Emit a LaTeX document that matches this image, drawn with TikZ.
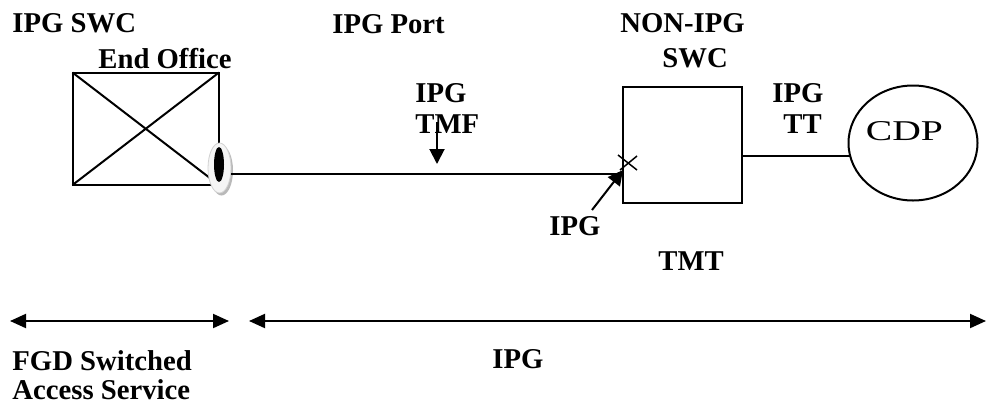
\documentclass[tikz,border=0pt]{standalone}
\usepackage{fontspec}
\setmainfont{Liberation Serif}
\usetikzlibrary{arrows.meta,shapes.geometric,calc}
\begin{document}
\begin{tikzpicture}[x=0.5pt,y=-0.5pt,
  lbl/.style={anchor=base west,inner sep=0,font=\fontsize{14.35}{16}\selectfont\bfseries},
  ln/.style={line width=1pt},
  thin/.style={line width=0.75pt},
  tip/.style={-{Triangle[length=7.5pt,width=7.5pt]}},
  both/.style={{Triangle[length=8pt,width=7pt]}-{Triangle[length=8pt,width=7pt]}},
  boxnode/.style={draw,line width=1pt,rectangle,inner sep=0,outer sep=0}]
\useasboundingbox (0,0) rectangle (986,408);
\fill[white] (0,0) rectangle (986,408);

% left end office box with cross
\node[boxnode,minimum width=73.25pt,minimum height=56.25pt] (eo) at (145.75,128.75) {};
\draw[ln] (eo.north west) -- (eo.south east) (eo.south west) -- (eo.north east);

% port oval
\node[ellipse,fill=gray!55,minimum width=11.5pt,minimum height=25pt,inner sep=0] (portsh) at (221.5,170.5) {};
\node[ellipse,fill=gray!8,draw=gray!35,line width=0.4pt,minimum width=11.5pt,minimum height=25pt,inner sep=0,outer sep=0] (port) at (219.5,168) {};
\node[ellipse,fill=black,minimum width=5pt,minimum height=17.5pt,inner sep=0] (porthole) at (219,164.5) {};

% non-IPG switch box
\node[boxnode,minimum width=59.5pt,minimum height=58pt] (sw) at (682.5,145) {};
\coordinate (xpt) at (623,174);
\draw[ln] (port.east |- xpt) -- (xpt);
\draw[thin] (618,155) -- (637,170) (620,170) -- (637,156);

% CDP
\node[draw,ellipse,line width=1pt,minimum width=64.5pt,minimum height=57.5pt,inner sep=0,outer sep=0] (cdp) at (913,143) {};
\node[anchor=base,inner sep=0,font=\fontsize{14.35}{16}\selectfont] (cdpt) at (904.5,140) {\scalebox{1.38}[1]{CDP}};
\draw[ln] (sw.east |- cdp.192.5) -- (cdp.192.5);

% labels
\node[lbl] (l1) at (12,32) {IPG SWC};
\node[lbl] (l2) at (98,68) {End Office};
\node[lbl] (l3) at (332,33) {IPG Port};
\node[lbl] (l4) at (620,32) {NON-IPG};
\node[lbl] (l5) at (662,67) {SWC};
\node[lbl] (l6) at (415,102) {IPG};
\node[lbl] (l7) at (415,133) {TMF};
\node[lbl] (l8) at (549,235) {IPG};
\node[lbl] (l9) at (658,270) {TMT};
\node[lbl] (l10) at (772,102) {IPG};
\node[lbl] (l11) at (783,133) {TT};
\node[lbl] (l12) at (12,370) {FGD Switched};
\node[lbl] (l13) at (12,399) {Access Service};
\node[lbl] (l14) at (492,368) {IPG};

% arrows
\coordinate (tmfA) at (437,122);
\coordinate (tmfB) at (437,164);
\draw[ln,tip] (tmfA) -- (tmfB);
\coordinate (ipgA) at (592,210);
\coordinate (ipgB) at (623,170);
\draw[ln,tip] (ipgA) -- (ipgB);

% span arrows
\coordinate (s1) at (10,321);
\coordinate (s2) at (229,321);
\coordinate (s3) at (249,321);
\coordinate (s4) at (986,321);
\draw[ln,both] (s1) -- (s2);
\draw[ln,both] (s3) -- (s4);
\end{tikzpicture}
\end{document}
